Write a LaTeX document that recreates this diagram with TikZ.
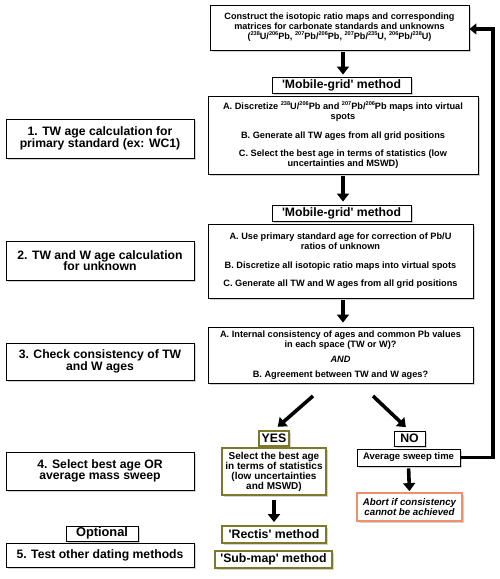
\documentclass[tikz,border=0pt]{standalone}
\usepackage{fontspec}
\setmainfont{Liberation Sans}
\usetikzlibrary{shadows,arrows.meta,calc}
\definecolor{olivebd}{RGB}{125,120,44}
\definecolor{abortbd}{RGB}{240,144,106}
\newcommand{\sq}{\textquotesingle}
\newcommand{\iso}[1]{\raisebox{0.45em}{\fontsize{5.6}{6}\selectfont #1}}
\tikzset{
  bx/.style={draw=black,line width=0.9pt,fill=white,inner sep=0pt,align=center,
    font=\bfseries\fontsize{9.2}{9.6}\selectfont,
    drop shadow={shadow xshift=1.6pt,shadow yshift=-1.8pt,opacity=0.35}},
  leftbx/.style={bx,font=\bfseries\fontsize{12.2}{11.5}\selectfont},
  lbl/.style={bx,font=\bfseries\fontsize{12.2}{12}\selectfont},
  olbx/.style={bx,draw=olivebd,line width=1.8pt},
  abbx/.style={bx,draw=abortbd,line width=1.8pt,font=\bfseries\itshape\fontsize{9.7}{9.6}\selectfont},
  bigarrow/.style={line width=3.6pt,-{Triangle[width=12pt,length=8pt]}},
  fbline/.style={line width=3.6pt,-{Triangle[width=11pt,length=7pt]}}
}
\begin{document}
\begin{tikzpicture}[x=1pt,y=-1pt]
\useasboundingbox (0,0) rectangle (500,579);
% top box
\node[bx,minimum width=259pt,minimum height=45pt,font=\bfseries\fontsize{9.1}{10}\selectfont] (top) at (339.5,27.5)
  {Construct the isotopic ratio maps and corresponding\\matrices for carbonate standards and unknowns\\(\iso{238}U/\iso{206}Pb, \iso{207}Pb/\iso{206}Pb, \iso{207}Pb/\iso{235}U, \iso{206}Pb/\iso{238}U)};
\node[lbl,minimum width=139pt,minimum height=16pt] (mg1) at (341.5,85) {\sq Mobile-grid\sq{} method};
\node[bx,minimum width=270pt,minimum height=78pt] (boxA) at (343,135)
  {A. Discretize \iso{238}U/\iso{206}Pb and \iso{207}Pb/\iso{206}Pb maps into virtual\\spots\\[9pt]B. Generate all TW ages from all grid positions\\[9pt]C. Select the best age in terms of statistics (low\\uncertainties and MSWD)};
\node[leftbx,minimum width=188pt,minimum height=39pt] (l1) at (100,138.5) {1. TW age calculation for\\primary standard (ex: WC1)};
\node[leftbx,minimum width=188pt,minimum height=39pt] (l2) at (100,260.5) {2. TW and W age calculation\\for unknown};
\node[lbl,minimum width=139pt,minimum height=16pt] (mg2) at (341.5,213) {\sq Mobile-grid\sq{} method};
\node[bx,minimum width=265pt,minimum height=74pt] (boxB) at (340.5,261)
  {A. Use primary standard age for correction of Pb/U\\ratios of unknown\\[9pt]B. Discretize all isotopic ratio maps into virtual spots\\[9pt]C. Generate all TW and W ages from all grid positions};
\node[bx,minimum width=265pt,minimum height=56pt] (boxC) at (340.5,355)
  {A. Internal consistency of ages and common Pb values\\in each space (TW or W)?\\[6pt]\textit{AND}\\[5pt]B. Agreement between TW and W ages?};
\node[leftbx,minimum width=188pt,minimum height=37pt] (l3) at (100,361.5) {3. Check consistency of TW\\and W ages};
\node[leftbx,minimum width=188pt,minimum height=38pt] (l4) at (100,471) {4. Select best age OR\\average mass sweep};
\node[leftbx,font=\bfseries\fontsize{12.8}{12}\selectfont,minimum width=72pt,minimum height=15pt] (opt) at (102,533.5) {Optional};
\node[leftbx,minimum width=188pt,minimum height=24pt] (l5) at (100,555) {5. Test other dating methods};
% yes branch
\node[olbx,font=\bfseries\fontsize{12.3}{12}\selectfont,minimum width=30pt,minimum height=15pt] (yes) at (274,438.5) {YES};
\node[olbx,font=\bfseries\fontsize{10}{10}\selectfont,minimum width=104pt,minimum height=47pt] (sel) at (274,471.5) {Select the best age\\in terms of statistics\\(low uncertainties\\and MSWD)};
\node[olbx,font=\bfseries\fontsize{12.3}{12}\selectfont,minimum width=104pt,minimum height=17pt] (rect) at (274,534.5) {\sq Rectis\sq{} method};
\node[olbx,font=\bfseries\fontsize{12.3}{12}\selectfont,minimum width=117pt,minimum height=17pt] (sub) at (273.5,559.5) {\sq Sub-map\sq{} method};
% no branch
\node[bx,font=\bfseries\fontsize{12.3}{12}\selectfont,minimum width=31pt,minimum height=15pt] (no) at (409.5,438.5) {NO};
\node[bx,font=\bfseries\fontsize{9.5}{10}\selectfont,minimum width=103pt,minimum height=17pt] (avg) at (408.5,457.5) {Average sweep time};
\node[abbx,minimum width=105pt,minimum height=28pt] (abort) at (409.5,507) {Abort if consistency\\cannot be achieved};
% arrows
\draw[bigarrow,shorten <=2pt,shorten >=2pt] (top.south -| mg1) ++(1.5,0) coordinate (a1s) -- (a1s |- mg1.north);
\draw[bigarrow,shorten <=2pt,shorten >=3pt] (boxA.south) -- (boxA.south |- mg2.north);
\draw[bigarrow,shorten <=2pt,shorten >=4pt] (boxB.south -| mg2) ++(1.5,0) coordinate (a3s) -- (a3s |- boxC.north);
\coordinate (d1s) at (313,396);
\coordinate (d2s) at (373,396);
\draw[bigarrow,shorten >=5pt] (d1s) -- (yes.north);
\draw[bigarrow,shorten >=5pt] (d2s) -- (no.north);
\draw[bigarrow,shorten <=4pt,shorten >=3pt] (sel.south) -- (rect.north);
\draw[bigarrow,shorten <=2pt,shorten >=1pt] (avg.south) -- (abort.north);
\coordinate (fb) at (493,0);
\coordinate (tp) at ($(top.east)+(0,1.5)$);
\draw[fbline,line join=miter] (avg.east) -- (avg.east -| fb) -- (tp -| fb) -- (tp);
\end{tikzpicture}
\end{document}
